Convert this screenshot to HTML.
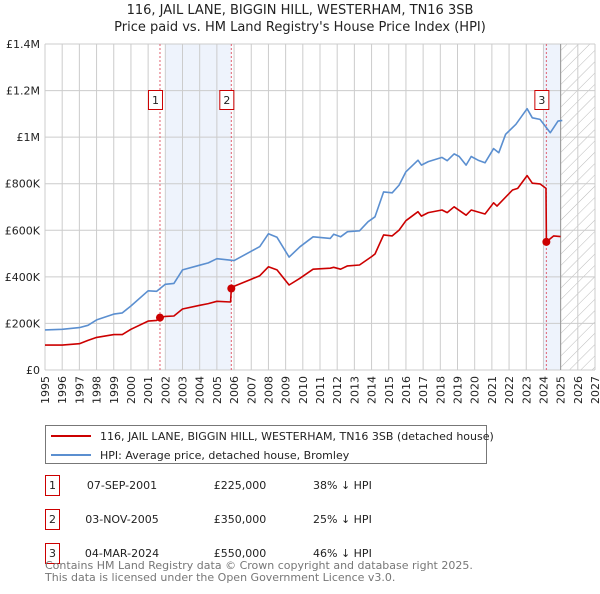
<!DOCTYPE html>
<html><head><meta charset="utf-8">
<style>
body{margin:0;background:#fff;font-family:"DejaVu Sans","Liberation Sans",sans-serif;}
svg text{font-family:"DejaVu Sans","Liberation Sans",sans-serif;}
</style></head>
<body>
<svg id="chart" width="600" height="590" xmlns="http://www.w3.org/2000/svg">
<defs>
<pattern id="hatch" patternUnits="userSpaceOnUse" width="8" height="8" patternTransform="rotate(45)">
<line x1="0" y1="0" x2="0" y2="8" stroke="#bbb" stroke-width="1"/>
</pattern>
</defs>
<text x="300" y="14" font-size="13" text-anchor="middle" fill="#222">116, JAIL LANE, BIGGIN HILL, WESTERHAM, TN16 3SB</text>
<text x="300" y="31" font-size="13" text-anchor="middle" fill="#222">Price paid vs. HM Land Registry's House Price Index (HPI)</text>
<g id="plot"></g>
<g>
<rect x="45.5" y="425.5" width="441" height="38" fill="#fff" stroke="#777"/>
<line x1="51" y1="436" x2="91" y2="436" stroke="#cc0000" stroke-width="2"/>
<text x="100" y="440" font-size="11" fill="#222">116, JAIL LANE, BIGGIN HILL, WESTERHAM, TN16 3SB (detached house)</text>
<line x1="51" y1="455" x2="91" y2="455" stroke="#5b8fd0" stroke-width="2"/>
<text x="100" y="459" font-size="11" fill="#222">HPI: Average price, detached house, Bromley</text>
</g>
<g font-size="11" fill="#222">
<rect x="45.5" y="475.5" width="14" height="20" fill="#fff" stroke="#cc0000"/><text x="52.5" y="489" text-anchor="middle">1</text>
<text x="122" y="489" text-anchor="middle">07-SEP-2001</text><text x="240" y="489" text-anchor="middle">£225,000</text><text x="313" y="489">38% ↓ HPI</text>
<rect x="45.5" y="509.5" width="14" height="20" fill="#fff" stroke="#cc0000"/><text x="52.5" y="523" text-anchor="middle">2</text>
<text x="122" y="523" text-anchor="middle">03-NOV-2005</text><text x="240" y="523" text-anchor="middle">£350,000</text><text x="313" y="523">25% ↓ HPI</text>
<rect x="45.5" y="543.5" width="14" height="20" fill="#fff" stroke="#cc0000"/><text x="52.5" y="557" text-anchor="middle">3</text>
<text x="122" y="557" text-anchor="middle">04-MAR-2024</text><text x="240" y="557" text-anchor="middle">£550,000</text><text x="313" y="557">46% ↓ HPI</text>
</g>
</svg>
<script>
const yearTicks=[1995,1996,1997,1998,1999,2000,2001,2002,2003,2004,2005,2006,2007,2008,2009,2010,2011,2012,2013,2014,2015,2016,2017,2018,2019,2020,2021,2022,2023,2024,2025,2026,2027];
const valueTicks=[0,200,400,600,800,1000,1200,1400];
const valueLabels=["£0","£200K","£400K","£600K","£800K","£1M","£1.2M","£1.4M"];
const hpiYears=[1995,1996,1997,1997.5,1998,1999,1999.5,2000,2001,2001.5,2002,2002.5,2003,2004,2004.5,2005,2006,2007,2007.5,2008,2008.5,2009.2,2009.83,2010.6,2011.6,2011.8,2012.2,2012.6,2013.3,2013.8,2014.2,2014.7,2015.2,2015.6,2016.0,2016.7,2016.9,2017.3,2018.1,2018.4,2018.8,2019.1,2019.5,2019.8,2020.2,2020.6,2021.1,2021.4,2021.8,2022.4,2023.05,2023.35,2023.8,2024.4,2024.85,2025.1];
const hpiValues=[172,175,182,192,215,240,245,275,340,338,368,372,430,450,460,478,470,510,530,585,570,485,529,572,565,583,572,594,598,637,658,765,761,794,851,901,880,895,913,899,928,917,880,917,901,890,951,933,1012,1055,1122,1083,1076,1019,1069,1072];
const redYears=[1995,1996,1997,1997.5,1998,1999,1999.5,2000,2001,2001.5,2001.69,2002,2002.5,2003,2004,2004.5,2005,2005.8,2005.84,2006,2007,2007.5,2008,2008.5,2009.2,2009.83,2010.6,2011.6,2011.8,2012.2,2012.6,2013.3,2014,2014.2,2014.7,2015.2,2015.6,2016.0,2016.7,2016.9,2017.3,2018.1,2018.4,2018.8,2019.5,2019.8,2020.6,2021.1,2021.3,2022.2,2022.5,2023.05,2023.35,2023.8,2024.15,2024.17,2024.6,2025.0];
const redValues=[107,107,113,127,140,152,152,175,210,213,225,230,232,262,278,285,295,292,350,360,390,405,443,430,365,394,433,437,441,433,447,451,487,498,580,576,601,641,680,661,676,687,676,701,665,687,670,718,704,773,780,835,802,799,780,550,576,573];
const saleYears=[2001.69,2005.84,2024.17];
const saleValues=[225,350,550];
const saleLabels=["1","2","3"];
const X0=45,X1=595,Y0=370,Y1=44;
const xs=y=>X0+(y-1995)/(2027-1995)*(X1-X0);
const ys=v=>Y0-v/1400*(Y0-Y1);
const NS="http://www.w3.org/2000/svg";
const plot=document.getElementById('plot');
function mk(tag,attrs,parent){const e=document.createElementNS(NS,tag);for(const k in attrs)e.setAttribute(k,attrs[k]);(parent||plot).appendChild(e);return e;}
let s1=mk('rect',{x:xs(2002),y:Y1,width:xs(saleYears[1])-xs(2002),height:Y0-Y1,fill:'#eef3fc'});


let s2=mk('rect',{x:xs(2024),y:Y1,width:xs(2025)-xs(2024),height:Y0-Y1,fill:'#eef3fc'});


let h=mk('rect',{x:xs(2025),y:Y1,width:X1-xs(2025),height:Y0-Y1,fill:'url(#hatch)'});


yearTicks.forEach(y=>{
 let l=mk('line',{x1:xs(y),x2:xs(y),y1:Y1,y2:Y0,stroke:'#ccc','stroke-width':1});
 
 
 let t=mk('text',{x:0,y:0,'font-size':11,'text-anchor':'end',fill:'#222',transform:`translate(${xs(y)+4},376) rotate(-90)`});
 
 
 t.textContent=y;
});
valueTicks.forEach((v,i)=>{
 let l=mk('line',{x1:X0,x2:X1,y1:ys(v),y2:ys(v),stroke:'#ccc','stroke-width':1});
 
 
 let t=mk('text',{x:40,y:ys(v)+4,'font-size':11,'text-anchor':'end',fill:'#222'});
 
 
 t.textContent=valueLabels[i];
});
let bl=mk('line',{x1:xs(2025),x2:xs(2025),y1:Y1,y2:Y0,stroke:'#999','stroke-width':1});


saleYears.forEach((y,i)=>{
 let l=mk('line',{x1:xs(y),x2:xs(y),y1:Y1,y2:Y0,stroke:'#e06070','stroke-width':1,'stroke-dasharray':'2,2'});
 
 
 let r=mk('rect',{x:xs(y)-11.5,y:90.5,width:14,height:19,fill:'#fff',stroke:'#cc0000'});
 
 
 let t=mk('text',{x:xs(y)-4.5,y:104,'font-size':11,'text-anchor':'middle',fill:'#222'});
 
 
 t.textContent=saleLabels[i];
});
function path(xa,va,color,name){
 const d=xa.map((y,i)=>(i?'L':'M')+xs(y).toFixed(1)+','+ys(va[i]).toFixed(1)).join('');
 let p=mk('path',{d:d,fill:'none',stroke:color,'stroke-width':1.6,'stroke-linejoin':'round'});
 
 
}
path(hpiYears,hpiValues,'#5b8fd0','hpi-line');
path(redYears,redValues,'#cc0000','price-paid-line');
saleYears.forEach((y,i)=>{
 let c=mk('circle',{cx:xs(y),cy:ys(saleValues[i]),r:4,fill:'#cc0000'});
 
 
});
</script>
<div style="position:absolute;left:45px;top:560px;font-size:11px;line-height:12px;color:#777;font-family:'DejaVu Sans','Liberation Sans',sans-serif;">Contains HM Land Registry data © Crown copyright and database right 2025.<br>This data is licensed under the Open Government Licence v3.0.</div>
</body></html>
